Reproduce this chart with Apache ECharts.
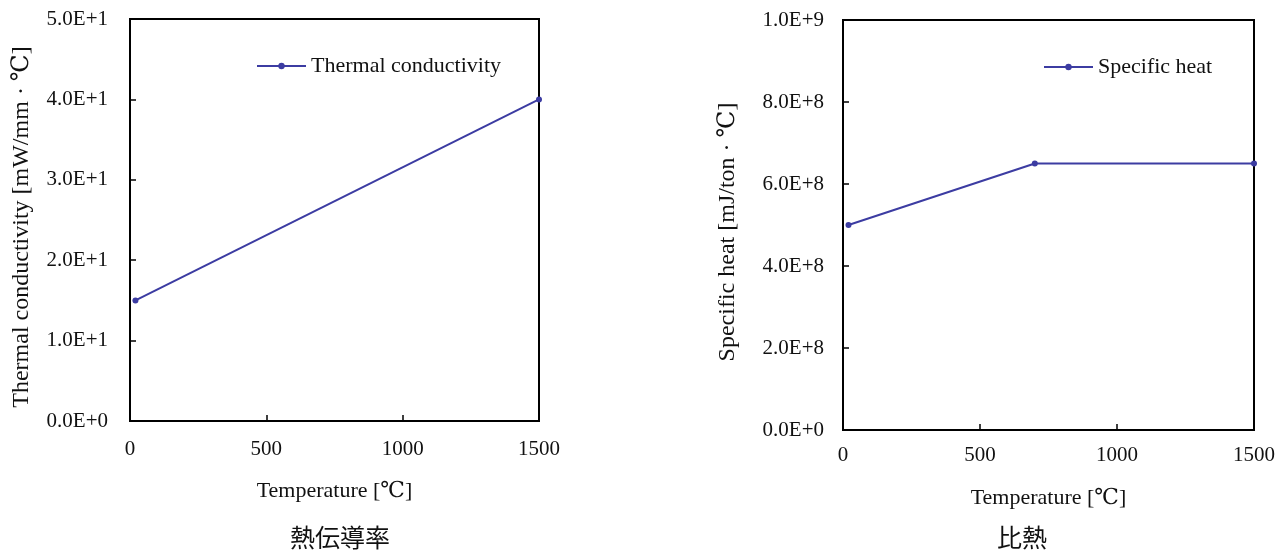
<!DOCTYPE html>
<html>
<head>
<meta charset="utf-8">
<script src="https://cdn.jsdelivr.net/npm/echarts@6/dist/echarts.min.js"></script>
<style>
  html, body { margin: 0; padding: 0; background: #fff; }
  #chart { width: 1282px; height: 554px; }
</style>
</head>
<body>
<div id="chart"></div>
<script>
// thermal conductivity (left)
const tcTemp = [20, 1500];
const tcValue = [15, 40];
// specific heat (right)
const shTemp = [20, 700, 1500];
const shValue = [5.0e8, 6.5e8, 6.5e8];

const tempTicks = { min: 0, max: 1500, interval: 500 };

const serif = "'Liberation Serif', 'DejaVu Serif', 'Noto Sans CJK JP', serif";
const lineColor = '#3c3ca2';

function expLabel(v) {
    return v.toExponential(1).replace('e', 'E');
}

function xAxisFor(gridIndex, labelMargin, nameGap) {
    return {
        gridIndex: gridIndex,
        type: 'value',
        min: tempTicks.min,
        max: tempTicks.max,
        interval: tempTicks.interval,
        name: 'Temperature [℃]',
        nameLocation: 'middle',
        nameGap: nameGap,
        nameTextStyle: { fontFamily: serif, fontSize: 22, color: '#111' },
        axisLine: { lineStyle: { color: '#000', width: 2 } },
        axisTick: { inside: true, length: 6, lineStyle: { color: '#000', width: 1.5 } },
        axisLabel: { fontFamily: serif, fontSize: 21, color: '#111', margin: labelMargin, formatter: v => String(v) },
        splitLine: { show: false }
    };
}

function yAxisFor(gridIndex, max, interval, name, labelMargin, nameGap) {
    return {
        gridIndex: gridIndex,
        type: 'value',
        min: 0,
        max: max,
        interval: interval,
        name: name,
        nameLocation: 'middle',
        nameGap: nameGap,
        nameTextStyle: { fontFamily: serif, fontSize: 24, color: '#111', padding: [0, 14, 0, 0] },
        axisLine: { show: true, lineStyle: { color: '#000', width: 2 } },
        axisTick: { show: true, inside: true, length: 6, lineStyle: { color: '#000', width: 1.5 } },
        axisLabel: { fontFamily: serif, fontSize: 21, color: '#111', margin: labelMargin, formatter: expLabel },
        splitLine: { show: false }
    };
}

var chart = echarts.init(document.getElementById('chart'));

var option = {
    animation: false,
    title: [
        { text: '熱伝導率', left: 335, top: 520, textAlign: 'center',
          textStyle: { fontFamily: "'Noto Sans CJK JP'", fontSize: 25, fontWeight: 'normal', color: '#111' } },
        { text: '比熱', left: 1017, top: 520, textAlign: 'center',
          textStyle: { fontFamily: "'Noto Sans CJK JP'", fontSize: 25, fontWeight: 'normal', color: '#111' } }
    ],
    legend: [
        { data: ['Thermal conductivity'], left: 251, top: 50, itemWidth: 49, itemHeight: 8,
          textStyle: { fontFamily: serif, fontSize: 22, color: '#111' } },
        { data: ['Specific heat'], left: 1038, top: 51, itemWidth: 49, itemHeight: 8,
          textStyle: { fontFamily: serif, fontSize: 22, color: '#111' } }
    ],
    grid: [
        { left: 130, top: 19, width: 409, height: 402, show: true, borderColor: '#000', borderWidth: 2 },
        { left: 843, top: 20, width: 411, height: 410, show: true, borderColor: '#000', borderWidth: 2 }
    ],
    xAxis: [xAxisFor(0, 18, 59), xAxisFor(1, 15, 57)],
    yAxis: [
        yAxisFor(0, 50, 10, 'Thermal conductivity [mW/mm · ℃]', 22, 96),
        yAxisFor(1, 1.0e9, 2.0e8, 'Specific heat [mJ/ton · ℃]', 19, 103)
    ],
    series: [
        {
            name: 'Thermal conductivity',
            type: 'line',
            xAxisIndex: 0,
            yAxisIndex: 0,
            data: tcTemp.map((t, i) => [t, tcValue[i]]),
            symbol: 'circle',
            symbolSize: 6,
            lineStyle: { color: lineColor, width: 2 },
            itemStyle: { color: lineColor }
        },
        {
            name: 'Specific heat',
            type: 'line',
            xAxisIndex: 1,
            yAxisIndex: 1,
            data: shTemp.map((t, i) => [t, shValue[i]]),
            symbol: 'circle',
            symbolSize: 6,
            lineStyle: { color: lineColor, width: 2 },
            itemStyle: { color: lineColor }
        }
    ]
};

chart.setOption(option);
</script>
</body>
</html>
